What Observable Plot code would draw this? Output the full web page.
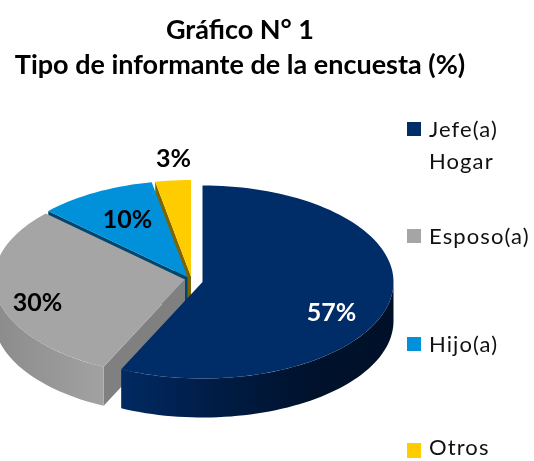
<!DOCTYPE html>
<html lang="es">
<head>
<meta charset="utf-8">
<script src="https://cdn.jsdelivr.net/npm/d3@7"></script>
<script src="https://cdn.jsdelivr.net/npm/@observablehq/plot@0.6"></script>
<style>
  html, body { margin: 0; padding: 0; background: #fff; }
  #page { position: relative; width: 534px; height: 461px; overflow: hidden; font-family: Lato, "Open Sans", sans-serif; color: #000; filter: blur(0.4px); }
  #title { position: absolute; left: 0; top: 11px; width: 480px; text-align: center; font-weight: 700; font-size: 27px; line-height: 35px; }
  #chart { position: absolute; left: 0; top: 85px; }
  #chart svg { display: block; }
  .key { position: absolute; left: 429px; font-size: 22px; line-height: 20px; letter-spacing: 1.1px; white-space: nowrap; color: #111; }
  .swatch { position: absolute; left: 407px; width: 14px; }
</style>
</head>
<body>
<div id="page">
  <div id="title">Gráfico N° 1<br>Tipo de informante de la encuesta (%)</div>
  <div id="chart"></div>
</div>
<script>
// Data
const categories = ["Jefe(a) Hogar", "Esposo(a)", "Hijo(a)", "Otros"];
const percentages = [57, 30, 10, 3];
const colors = ["#002c67", "#a5a5a5", "#0091da", "#ffcc00"];

// Layout (page pixels)
const pieCentres = [[202, 281.5], [184.5, 279], [187, 276.5], [190.5, 276]];
const labelSpots = [[331, 312], [37, 302], [127, 219], [173, 158]];
const labelInk = ["#fff", "#000", "#000", "#000"];
const legendSwatches = [[122, 14], [229, 14], [337, 14], [443, 15]];
const legendLines = [[["Jefe(a)", 119], ["Hogar", 151]], [["Esposo(a)", 226]], [["Hijo(a)", 334]], [["Otros", 437]]];
const wallColors = ["none", "#808080", "#00466f", "#7d6400"];
const rimFills = ["url(#rimNavy)", "url(#rimGray)", "none", "none"];
const rx = 191, ry = 96.5, depth = 39, svgTop = 85, W = 534, H = 461 - svgTop;

const rad = d => d * Math.PI / 180;
const at = (c, deg, drop = 0) => ({x: c[0] + rx * Math.sin(rad(deg)), y: c[1] - ry * Math.cos(rad(deg)) + drop});
function arc(c, a0, a1, drop = 0) {
  const n = Math.max(2, Math.ceil(Math.abs(a1 - a0) / 2)), pts = [];
  for (let i = 0; i <= n; i++) pts.push(at(c, a0 + (a1 - a0) * i / n, drop));
  return pts;
}

// Angles come from the values
let sum = 0;
const slices = percentages.map((v, i) => {
  const a0 = sum * 3.6; sum += v;
  return {i, a0, a1: sum * 3.6, c: pieCentres[i]};
});

const poly = (pts, fill) => Plot.line(pts, {x: "x", y: "y", fill, stroke: "none"});
const marks = [];
// Back to front: Otros, Hijo, Esposo, Jefe
for (const s of [...slices].reverse()) {
  const {i, a0, a1, c} = s;
  const apex = {x: c[0], y: c[1]};
  if (wallColors[i] !== "none") {
    const p = at(c, a0);
    marks.push(poly([apex, p, {x: p.x, y: p.y + depth}, {x: apex.x, y: apex.y + depth}], wallColors[i]));
  }
  const v0 = Math.max(a0, 90), v1 = Math.min(a1, 270);
  if (v1 > v0 && rimFills[i] !== "none") {
    marks.push(poly([...arc(c, v0, v1), ...arc(c, v1, v0, depth)], rimFills[i]));
  }
  marks.push(poly([apex, ...arc(c, a0, a1)], colors[i]));
}
marks.push(Plot.text(percentages.map((v, i) => ({label: v + "%", x: labelSpots[i][0], y: labelSpots[i][1], ink: labelInk[i]})), {
  x: "x", y: "y", text: "label", fill: "ink", fontWeight: 700, fontSize: 25, fontFamily: "Lato, sans-serif", lineAnchor: "middle"
}));

const plot = Plot.plot({
  width: W, height: H, margin: 0,
  x: {domain: [0, W], range: [0, W], axis: null},
  y: {domain: [svgTop, svgTop + H], range: [0, H], axis: null},
  style: {background: "transparent", overflow: "hidden"},
  marks
});

// Shading of the pie's outer wall
const defs = d3.select(plot).insert("defs", ":first-child");
function gradient(id, stops) {
  const g = defs.append("linearGradient").attr("id", id).attr("x1", 0).attr("x2", 1).attr("y1", 0).attr("y2", 0);
  stops.forEach(([o, col]) => g.append("stop").attr("offset", o).attr("stop-color", col));
}
gradient("rimNavy", [[0, "#012a62"], [0.35, "#001c45"], [0.7, "#00122c"], [1, "#001029"]]);
gradient("rimGray", [[0, "#8b8b8b"], [1, "#a2a2a2"]]);
document.getElementById("chart").append(plot);

// Legend
const page = document.getElementById("page");
categories.forEach((name, i) => {
  const s = document.createElement("div");
  s.className = "swatch";
  s.style.top = legendSwatches[i][0] + "px";
  s.style.height = legendSwatches[i][1] + "px";
  s.style.background = colors[i];
  page.append(s);
  legendLines[i].forEach(([line, top]) => {
    const k = document.createElement("div");
    k.className = "key";
    k.style.top = top + "px";
    k.textContent = line;
    page.append(k);
  });
});
</script>
</body>
</html>
